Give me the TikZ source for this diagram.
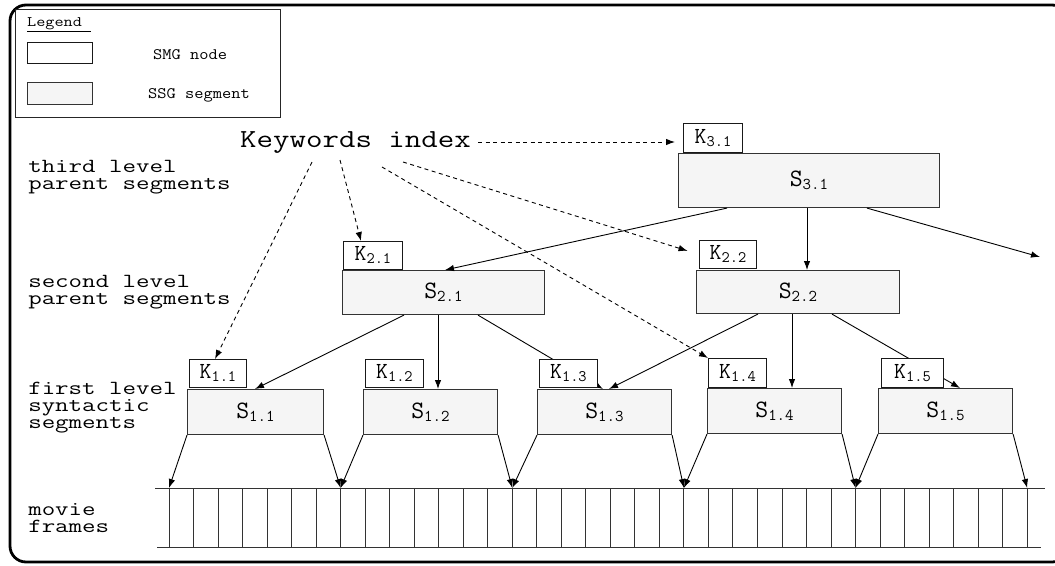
\documentclass[tikz,border=0pt]{standalone}
\usepackage{fontspec}
\renewcommand{\familydefault}{\ttdefault}
\usetikzlibrary{arrows.meta}

% segment / keyword labels with a lowered index
\newcommand\seglabel[2]{\fontsize{25}{25}\selectfont #1\raisebox{-3pt}{\fontsize{16.5}{16.5}\selectfont #2}}
\newcommand\keylabel[2]{\fontsize{23}{23}\selectfont #1\raisebox{-3pt}{\fontsize{16}{16}\selectfont #2}}

\begin{document}
\begin{tikzpicture}[x=1pt,y=-1pt,
  seg/.style={draw=black!80, fill=black!4, line width=1.1pt, anchor=north west, inner sep=0pt},
  keybox/.style={draw=black!90, fill=white, line width=0.9pt, anchor=north west, inner sep=0pt},
  link/.style={line width=0.9pt, -{Latex[length=9pt,width=6.5pt]}},
  idx/.style={link, dash pattern=on 4pt off 3.5pt},
  lvl/.style={anchor=base west, align=left, font=\fontsize{20}{17}\selectfont, xscale=1.31, inner sep=0pt},
  framelines/.style={line width=1pt, draw=black!80}]

\useasboundingbox (0,0) rectangle (1055,565);

% outer frame
\draw[line width=2.8pt, rounded corners=16pt] (10,5) rectangle (1068,562);

% legend
\node[draw=black!85, line width=0.9pt, anchor=north west, minimum width=265pt,
      minimum height=108pt, inner sep=0pt] (legend) at (15,9) {};
\node[anchor=base west, inner sep=0pt, xscale=1.22, font=\fontsize{14.5}{14.5}\selectfont]
      (legtitle) at (27,26) {\underline{Legend~}};
\node[keybox, minimum width=65pt, minimum height=21pt] (legsmg) at (27,42) {};
\node[seg, minimum width=65pt, minimum height=22pt] (legssg) at (27,82) {};
\node[anchor=west, inner sep=0pt, xscale=1.12, font=\fontsize{16}{16}\selectfont] (legsmgtxt) at (153,55) {SMG node};
\node[anchor=west, inner sep=0pt, xscale=1.12, font=\fontsize{16}{16}\selectfont] (legssgtxt) at (148,95) {SSG segment};

% level captions (anchored at the baseline of their last line)
\node[lvl] (lv3) at (28,189) {third level\\parent segments};
\node[lvl] (lv2) at (28,304) {second level\\parent segments};
\node[lvl] (lv1) at (28,428) {first level\\syntactic\\segments};
\node[lvl] (lv0) at (28,532) {movie\\frames};

% keyword index
\node[anchor=base west, inner sep=0pt, xscale=1.23, font=\fontsize{26}{26}\selectfont] (kw) at (240,147) {Keywords index};
\coordinate (kwA) at (312,162);
\coordinate (kwB) at (340,160);
\coordinate (kwC) at (382,167);
\coordinate (kwD) at (403,162);
\coordinate (kwE) at (478,142);

% segments
\node[seg, minimum width=261pt, minimum height=54pt] (s31) at (678,153) {\seglabel{S}{3.1}};
\node[seg, minimum width=202pt, minimum height=44pt] (s21) at (342,270) {\seglabel{S}{2.1}};
\node[seg, minimum width=203pt, minimum height=43pt] (s22) at (696,270) {\seglabel{S}{2.2}};
\node[seg, minimum width=136pt, minimum height=45pt] (s11) at (187,389) {\seglabel{S}{1.1}};
\node[seg, minimum width=134pt, minimum height=45pt] (s12) at (363,389) {\seglabel{S}{1.2}};
\node[seg, minimum width=134pt, minimum height=45pt] (s13) at (537,389) {\seglabel{S}{1.3}};
\node[seg, minimum width=134pt, minimum height=45pt] (s14) at (707,388) {\seglabel{S}{1.4}};
\node[seg, minimum width=134pt, minimum height=45pt] (s15) at (878,388) {\seglabel{S}{1.5}};

% parent -> child links
\coordinate (rt) at (1040,257);
\draw[link] ([xshift=49pt]s31.south west) -- ([xshift=103pt]s21.north west);
\draw[link] ([xshift=129pt]s31.south west) -- ([xshift=111pt]s22.north west);
\draw[link] ([xshift=189pt]s31.south west) -- (rt);
\draw[link] ([xshift=62pt]s21.south west) -- ([xshift=68pt]s11.north west);
\draw[link] ([xshift=96pt]s21.south west) -- ([xshift=75pt]s12.north west);
\draw[link] ([xshift=136pt]s21.south west) -- ([xshift=66pt]s13.north west);
\draw[link] ([xshift=62pt]s22.south west) -- ([xshift=72pt]s13.north west);
\draw[link] ([xshift=96pt]s22.south west) -- ([xshift=85pt]s14.north west);
\draw[link] ([xshift=136pt]s22.south west) -- ([xshift=82pt]s15.north west);

% movie frames strip
\draw[framelines] (155,488) -- (1045,488);
\draw[framelines] (157,547) -- (1041,547);
\foreach \k in {0,...,35}
  \draw[framelines] ({169+24.52*\k},488) -- ({169+24.52*\k},547);
\foreach \m in {0,...,5}
  \coordinate (f\m) at ({169+171.64*\m},488);

% segment boundaries on the frames
\draw[link] (s11.south west) -- (f0);
\draw[link] (s11.south east) -- (f1);
\draw[link] (s12.south west) -- (f1);
\draw[link] (s12.south east) -- (f2);
\draw[link] (s13.south west) -- (f2);
\draw[link] (s13.south east) -- (f3);
\draw[link] (s14.south west) -- (f3);
\draw[link] (s14.south east) -- (f4);
\draw[link] (s15.south west) -- (f4);
\draw[link] (s15.south east) -- (f5);

% keyword nodes
\node[keybox, minimum width=59pt, minimum height=29pt] (k31) at (683,123) {\keylabel{K}{3.1}};
\node[keybox, minimum width=59pt, minimum height=28pt] (k21) at (343,241) {\keylabel{K}{2.1}};
\node[keybox, minimum width=57pt, minimum height=28pt] (k22) at (699,240) {\keylabel{K}{2.2}};
\node[keybox, minimum width=57pt, minimum height=28pt] (k11) at (189,359) {\keylabel{K}{1.1}};
\node[keybox, minimum width=58pt, minimum height=28pt] (k12) at (365,359) {\keylabel{K}{1.2}};
\node[keybox, minimum width=58pt, minimum height=28pt] (k13) at (539,359) {\keylabel{K}{1.3}};
\node[keybox, minimum width=58pt, minimum height=29pt] (k14) at (708,358) {\keylabel{K}{1.4}};
\node[keybox, minimum width=62pt, minimum height=29pt] (k15) at (881,358) {\keylabel{K}{1.5}};

% index references
\draw[idx] (kwA) -- ([xshift=26pt]k11.north west);
\draw[idx] (kwB) -- ([xshift=18pt]k21.north west);
\draw[idx] (kwC) -- (k14.north west);
\draw[idx, shorten >=12pt] (kwD) -- (k22.west);
\draw[idx, shorten >=8pt] (kwE) -- (k31.west |- kwE);

\end{tikzpicture}
\end{document}
